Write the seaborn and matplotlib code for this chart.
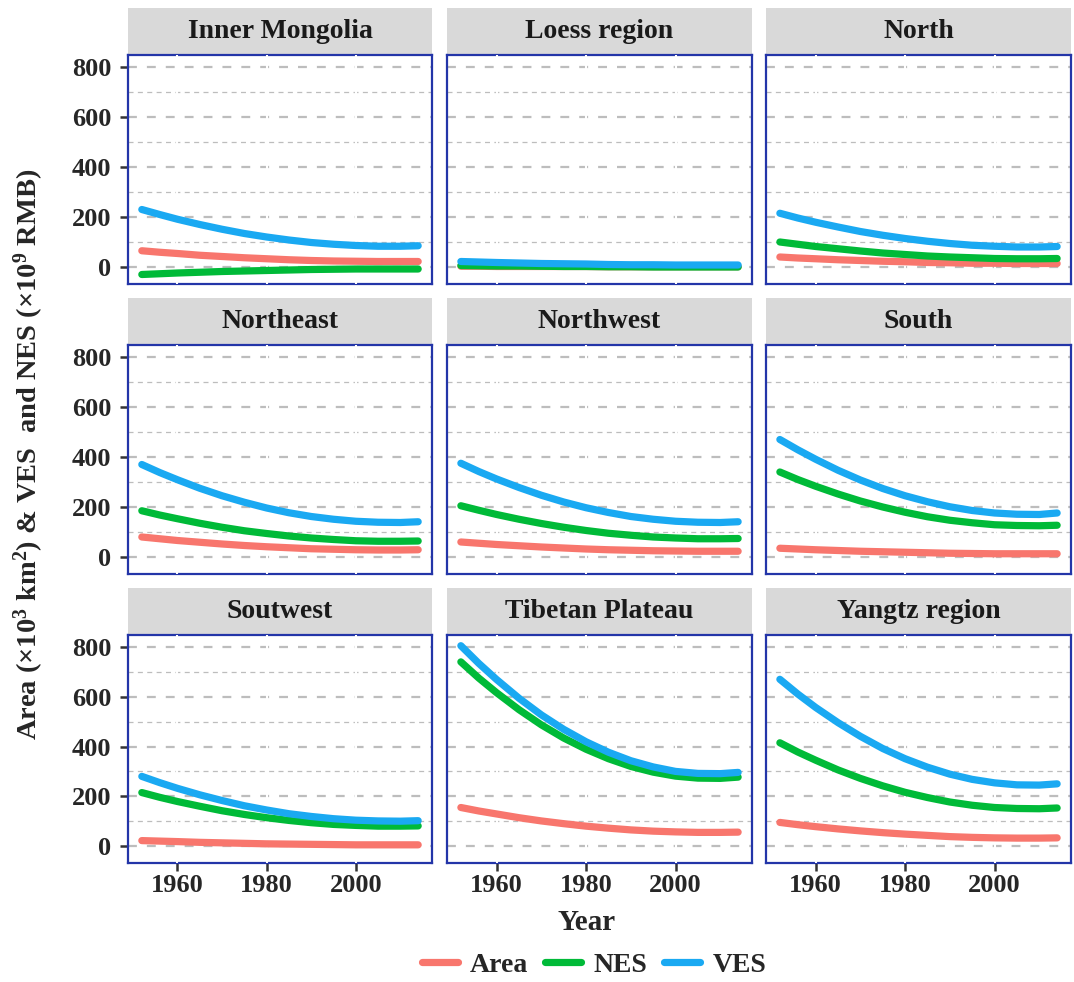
import numpy as np
import pandas as pd
import matplotlib.pyplot as plt
import matplotlib.patches as mpatches
from matplotlib.lines import Line2D
import seaborn as sns

# ─── Data ────────────────────────────────────────────────
years = [1952, 1956, 1960, 1965, 1970, 1975, 1980, 1985, 1990, 1995, 2000, 2005, 2010, 2014]

regions = ["Inner Mongolia", "Loess region", "North",
           "Northeast", "Northwest", "South",
           "Soutwest", "Tibetan Plateau", "Yangtz region"]

area = {
    "Inner Mongolia":  [65, 59, 54, 47, 42, 37, 33, 29, 26, 24, 23, 22, 22, 22],
    "Loess region":    [3, 3, 2, 2, 2, 2, 2, 1, 1, 1, 1, 1, 1, 1],
    "North":           [40, 36, 33, 29, 26, 23, 21, 18, 17, 15, 15, 14, 14, 14],
    "Northeast":       [80, 73, 66, 59, 52, 46, 41, 37, 33, 31, 29, 28, 28, 29],
    "Northwest":       [60, 55, 50, 45, 40, 36, 32, 29, 27, 25, 24, 23, 23, 23],
    "South":           [35, 32, 29, 26, 23, 21, 19, 17, 15, 14, 13, 13, 13, 13],
    "Soutwest":        [22, 20, 18, 15, 13, 11, 9, 8, 7, 6, 5, 5, 5, 5],
    "Tibetan Plateau": [155, 141, 129, 114, 101, 90, 80, 72, 65, 60, 57, 55, 55, 56],
    "Yangtz region":   [95, 86, 78, 69, 61, 54, 48, 43, 38, 35, 33, 32, 32, 33],
}
nes = {
    "Inner Mongolia":  [-30, -27, -24, -21, -18, -16, -14, -12, -10, -9, -8, -8, -8, -8],
    "Loess region":    [6, 5, 4, 4, 3, 2, 2, 1, 1, 0, 0, 0, 0, 0],
    "North":           [100, 91, 82, 73, 64, 56, 50, 44, 40, 37, 34, 33, 33, 34],
    "Northeast":       [185, 168, 153, 135, 119, 105, 94, 84, 76, 70, 65, 63, 63, 64],
    "Northwest":       [205, 187, 170, 151, 134, 119, 106, 95, 87, 80, 76, 73, 73, 74],
    "South":           [340, 310, 283, 252, 224, 200, 179, 161, 147, 137, 129, 126, 125, 127],
    "Soutwest":        [215, 196, 179, 160, 142, 127, 114, 103, 94, 87, 83, 80, 80, 81],
    "Tibetan Plateau": [740, 675, 616, 548, 487, 434, 389, 351, 320, 297, 281, 273, 272, 277],
    "Yangtz region":   [415, 378, 345, 306, 272, 242, 216, 195, 177, 164, 155, 151, 150, 153],
}
ves = {
    "Inner Mongolia":  [230, 210, 191, 170, 151, 134, 120, 108, 98, 91, 86, 83, 83, 85],
    "Loess region":    [22, 20, 18, 16, 14, 13, 12, 10, 9, 9, 8, 8, 8, 8],
    "North":           [215, 196, 179, 160, 142, 127, 114, 103, 94, 87, 83, 80, 80, 82],
    "Northeast":       [370, 338, 309, 275, 245, 219, 196, 177, 162, 151, 143, 139, 138, 141],
    "Northwest":       [375, 342, 312, 278, 247, 220, 197, 178, 162, 151, 143, 139, 138, 141],
    "South":           [470, 429, 391, 347, 308, 274, 245, 221, 201, 186, 176, 171, 170, 176],
    "Soutwest":        [280, 255, 232, 206, 183, 162, 145, 130, 119, 110, 104, 101, 100, 102],
    "Tibetan Plateau": [805, 734, 669, 594, 527, 469, 419, 377, 343, 318, 300, 292, 291, 296],
    "Yangtz region":   [670, 611, 557, 496, 441, 392, 351, 317, 289, 268, 254, 246, 245, 250],
}

series_names = ["Area", "NES", "VES"]
colors = {"Area": "#F8766D", "NES": "#00BA38", "VES": "#1AA9F2"}

rows = []
for reg in regions:
    for name, src in zip(series_names, [area, nes, ves]):
        for yr, v in zip(years, src[reg]):
            rows.append({"region": reg, "series": name, "Year": yr, "value": v})
df = pd.DataFrame(rows)

# ─── Style ───────────────────────────────────────────────
sns.set_theme(style="white")
plt.rcParams["font.family"] = ["Liberation Serif", "DejaVu Serif"]
plt.rcParams["font.weight"] = "bold"
plt.rcParams["mathtext.fontset"] = "custom"
plt.rcParams["mathtext.rm"] = "Liberation Serif"
plt.rcParams["mathtext.it"] = "Liberation Serif"
plt.rcParams["mathtext.bf"] = "Liberation Serif:bold"

BORDER = "#2335A8"
STRIP = "#D9D9D9"
GRID = "#BDBDBD"

g = sns.relplot(data=df, x="Year", y="value", hue="series", col="region",
                col_order=regions, col_wrap=3, kind="line",
                palette=colors, hue_order=series_names, linewidth=5.2,
                legend=False, height=3, aspect=1,
                facet_kws=dict(sharex=True, sharey=True))
fig = g.figure
fig.set_size_inches(10.74, 9.82)
W, H = 1074, 982

cols_px = [(128, 432), (447, 752), (766, 1071)]
rows_px = [(55, 284), (345, 574), (635, 863)]
strip_px = 47

g.set_titles("")
g.set_axis_labels("", "")

for i, (ax, reg) in enumerate(zip(g.axes.flat, regions)):
    r, c = divmod(i, 3)
    x0, x1 = cols_px[c]
    y0, y1 = rows_px[r]
    ax.set_position([x0 / W, 1 - y1 / H, (x1 - x0) / W, (y1 - y0) / H])

    ax.set_xlim(1948.9, 2017.1)
    ax.set_ylim(-68, 848)
    ax.set_xticks([1960, 1980, 2000])
    ax.set_yticks([0, 200, 400, 600, 800])

    # horizontal grid: major + minor
    for yv in [0, 200, 400, 600, 800]:
        ax.axhline(yv, color=GRID, lw=1.6, dashes=(4, 4.5), zorder=1)
    for yv in [100, 300, 500, 700]:
        ax.axhline(yv, color=GRID, lw=0.9, dashes=(4, 3.5), zorder=1)
    # white vertical grid lines (cut through the border like ggplot)
    for xv in [1960, 1980, 2000]:
        ax.axvline(xv, color="white", lw=1.5, zorder=2.6)
    for ln in ax.get_lines()[:3]:
        ln.set_zorder(3)

    for sp in ax.spines.values():
        sp.set_visible(True)
        sp.set_color(BORDER)
        sp.set_linewidth(1.6)

    ax.tick_params(axis="both", which="both", direction="out", length=6,
                   width=1.8, color="#333333", labelsize=19,
                   left=(c == 0), bottom=(r == 2),
                   labelleft=(c == 0), labelbottom=(r == 2))
    ax.tick_params(axis="y", pad=6)
    ax.tick_params(axis="x", pad=2)
    for lab in ax.get_xticklabels() + ax.get_yticklabels():
        lab.set_fontweight("bold")

    # grey strip header
    sh = strip_px / (y1 - y0)
    ax.add_patch(mpatches.Rectangle((0, 1.0), 1, sh, transform=ax.transAxes,
                                    facecolor=STRIP, edgecolor="none",
                                    clip_on=False, zorder=0))
    ax.text(0.5, 1 + sh / 2, reg, transform=ax.transAxes, ha="center",
            va="center", fontsize=20, fontweight="bold", color="#1A1A1A")

fig.text(29 / W, 1 - 454 / H,
         r"Area (×10$^3$ km$^2$) & VES  and NES (×10$^9$ RMB)",
         rotation=90, ha="center", va="center", fontsize=20.5, fontweight="bold")
fig.text(587 / W, 1 - 922 / H, "Year", ha="center", va="center",
         fontsize=21, fontweight="bold")

handles = [Line2D([0], [0], color=colors[s], lw=5.2) for s in series_names]
fig.legend(handles, series_names, loc="center", ncol=3,
           bbox_to_anchor=(594 / W, 1 - 965 / H), frameon=False,
           prop={"size": 20, "weight": "bold"}, handlelength=1.3,
           columnspacing=0.6, handletextpad=0.45)

fig.savefig("out.png", dpi=100)
